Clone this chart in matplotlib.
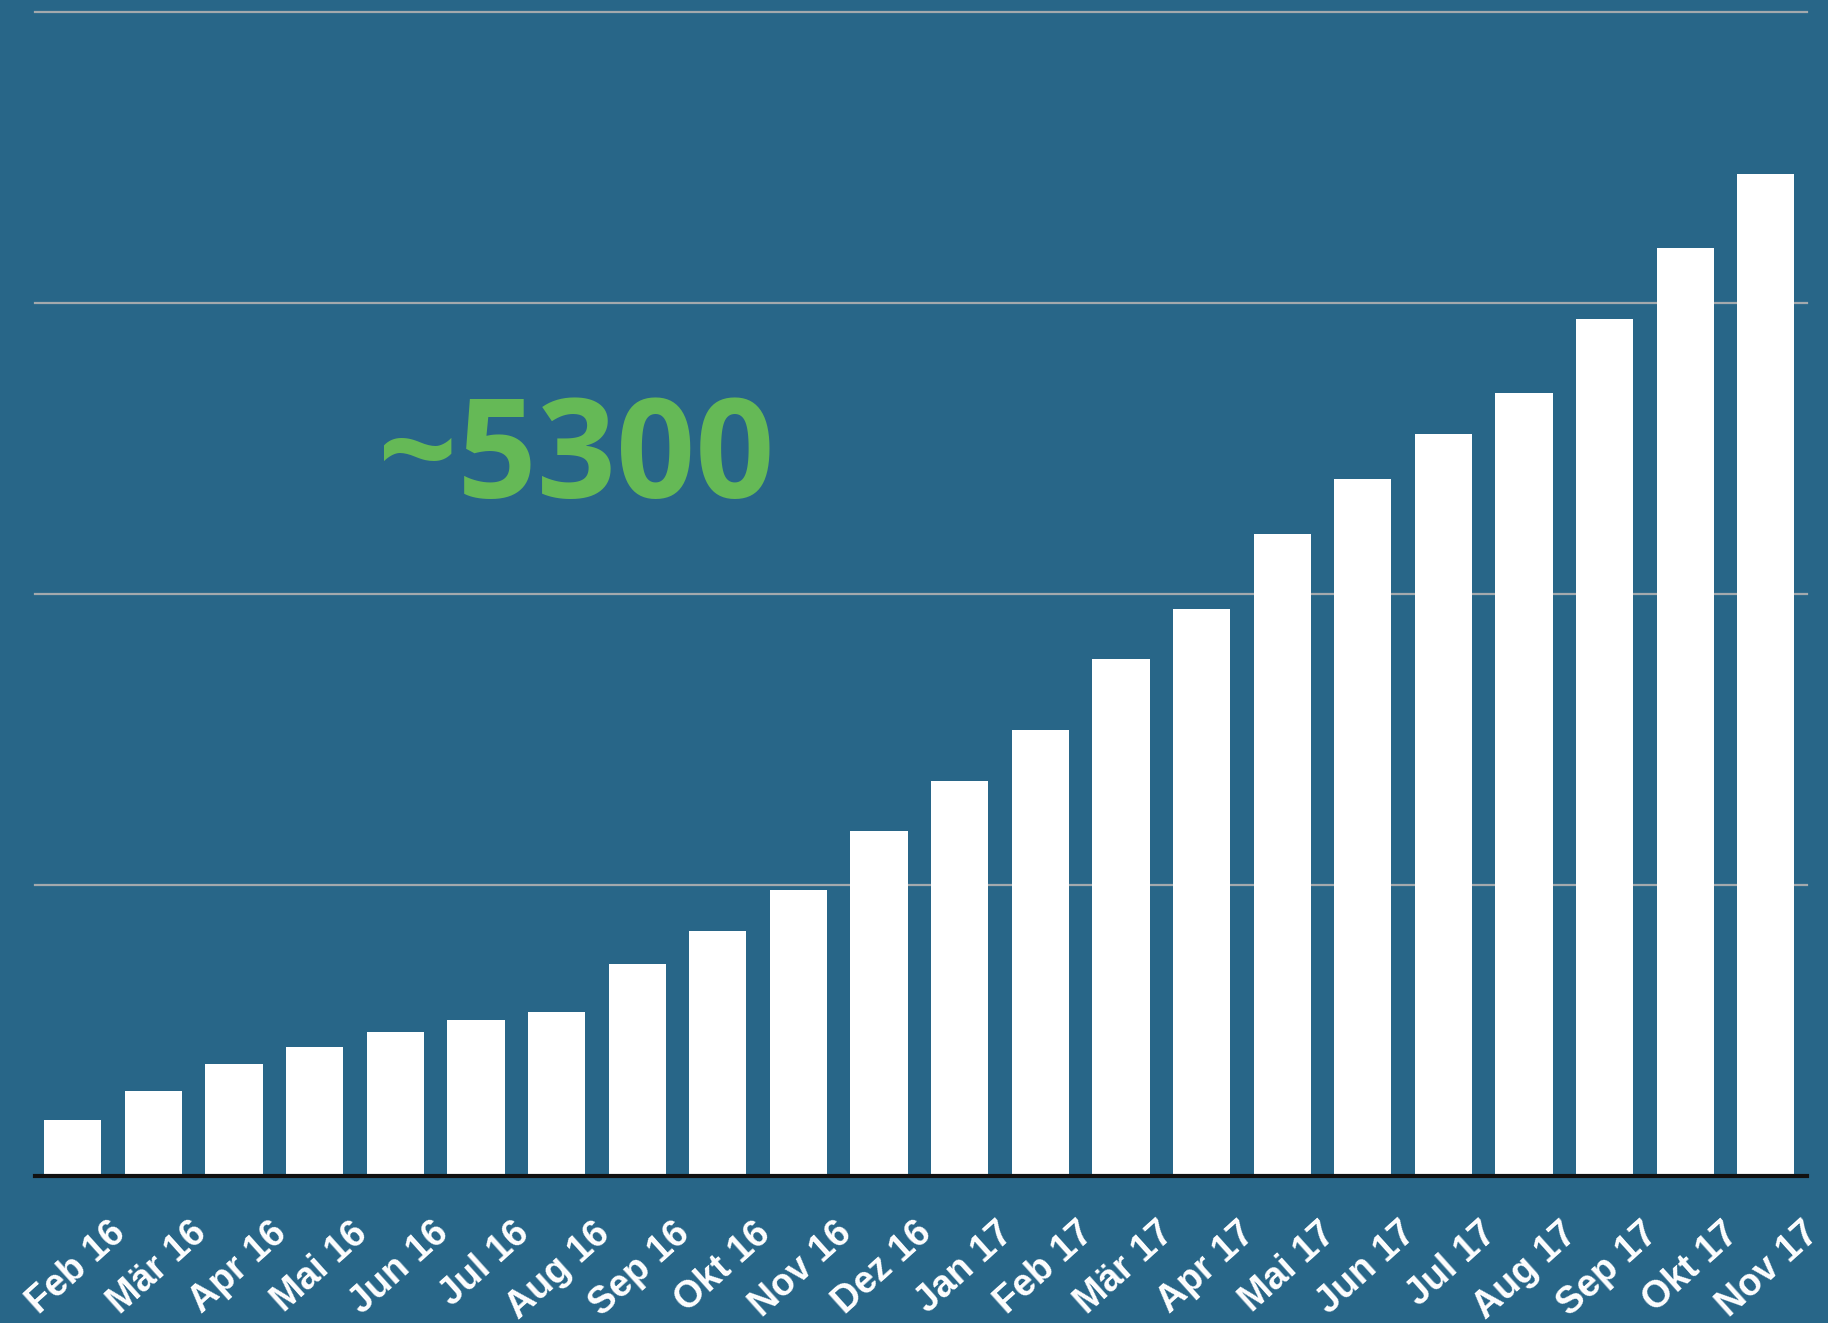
import matplotlib
matplotlib.use("Agg")
import matplotlib.pyplot as plt
import matplotlib.transforms as mtransforms
import numpy as np

# Monthly counts
months = ["Feb 16", "Mär 16", "Apr 16", "Mai 16", "Jun 16", "Jul 16", "Aug 16",
          "Sep 16", "Okt 16", "Nov 16", "Dez 16", "Jan 17", "Feb 17", "Mär 17",
          "Apr 17", "Mai 17", "Jun 17", "Jul 17", "Aug 17", "Sep 17", "Okt 17", "Nov 17"]
values = [289, 439, 577, 667, 745, 806, 848, 1094, 1263, 1473, 1780, 2038,
          2297, 2663, 2922, 3307, 3595, 3824, 4034, 4419, 4785, 5164]
grid_levels = [1500, 3000, 4500, 6000]
headline = "~5300"

bg = "#286688"

fig = plt.figure(figsize=(18.28, 13.23), dpi=100, facecolor=bg)
ax = fig.add_axes([0.0191, 0.111, 0.9694, 0.883])
ax.set_facecolor(bg)

x = np.arange(len(months))

# Grid lines
for g in grid_levels:
    ax.axhline(g, color="#a3a9ad", lw=1.6, zorder=1, clip_on=False)

ax.bar(x, values, width=0.71, color="white", zorder=2)
ax.axhline(0, color="#111111", lw=3, zorder=3, clip_on=False)

ax.set_xlim(-0.47, len(months) - 1 + 0.51)
ax.set_ylim(0, 6020)
for s in ax.spines.values():
    s.set_visible(False)
ax.set_yticks([])
ax.set_xticks(x)
ax.set_xticklabels(months, rotation=42, ha="right", va="top", rotation_mode="anchor",
                   color="white", fontsize=27, fontweight="bold",
                   family="Liberation Sans")
ax.tick_params(axis="x", length=0, pad=28)

# Labels sit a little to the right of their bars, as in the original
shift = mtransforms.ScaledTranslation(0.36, 0, fig.dpi_scale_trans)
for lab in ax.get_xticklabels():
    lab.set_transform(lab.get_transform() + shift)

fig.text(0.315, 0.651, headline, color="#65b956", fontsize=100, fontweight="bold",
         family="Open Sans", ha="center", va="center")

fig.savefig("out.png", dpi=100, facecolor=bg)
